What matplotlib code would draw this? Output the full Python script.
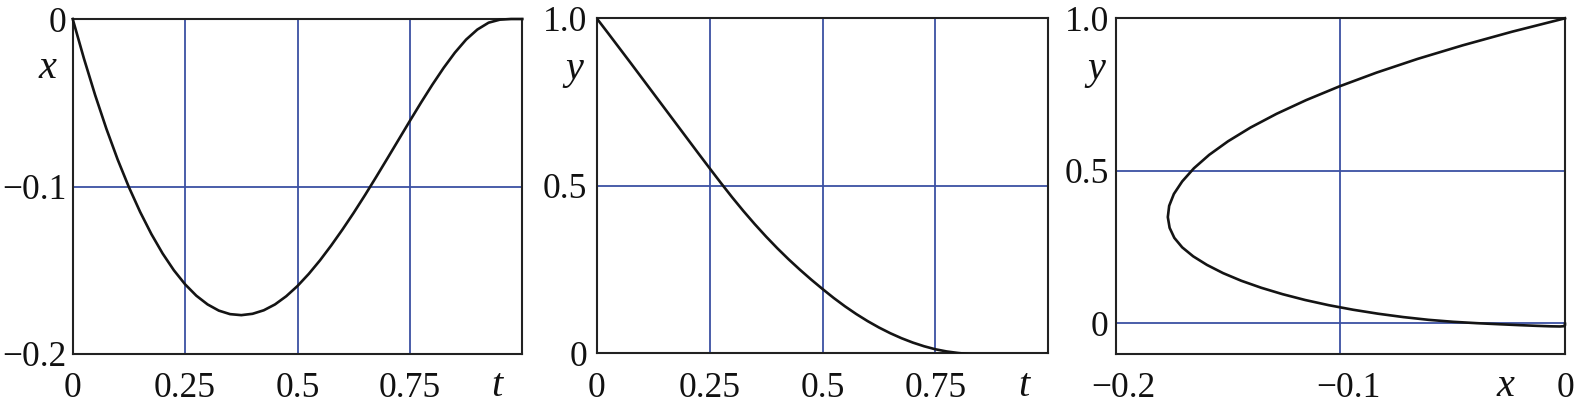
import matplotlib
matplotlib.use("Agg")
import matplotlib.pyplot as plt
import matplotlib.transforms as mtransforms

# ---- data ----
t_vals = [0.000, 0.025, 0.050, 0.075, 0.100, 0.125, 0.150, 0.175, 0.200, 0.225,
          0.250, 0.275, 0.300, 0.325, 0.350, 0.375, 0.400, 0.425, 0.450, 0.475,
          0.500, 0.525, 0.550, 0.575, 0.600, 0.625, 0.650, 0.675, 0.700, 0.725,
          0.750, 0.775, 0.800, 0.825, 0.850, 0.875, 0.900, 0.925, 0.950, 0.975,
          1.000]
x_vals = [0.0, -0.0236, -0.0455, -0.0656, -0.0839, -0.1004, -0.1152, -0.1284, -0.1400, -0.1500,
          -0.1584, -0.1652, -0.1704, -0.1741, -0.1762, -0.1768, -0.1760, -0.1739, -0.1704, -0.1655,
          -0.1594, -0.1522, -0.1441, -0.1352, -0.1257, -0.1157, -0.1052, -0.0943, -0.0832, -0.0720,
          -0.0608, -0.0498, -0.0392, -0.0292, -0.0201, -0.0123, -0.0063, -0.0022, -0.0004, 0.0,
          0.0]
y_vals = [1.000, 0.956, 0.9115, 0.867, 0.822, 0.777, 0.732, 0.687, 0.642, 0.597,
          0.5525, 0.5085, 0.4655, 0.4245, 0.3855, 0.3485, 0.3135, 0.2805, 0.2495, 0.220,
          0.192, 0.165, 0.140, 0.117, 0.096, 0.077, 0.060, 0.045, 0.032, 0.021,
          0.012, 0.0055, 0.001, -0.0025, -0.0055, -0.0078, -0.0093, -0.0098, -0.0088, -0.006,
          -0.001]

t_ticks = [0, 0.25, 0.5, 0.75]
t_ticklabels = ["0", "0.25", "0.5", "0.75"]
x_ticks = [0, -0.1, -0.2]
x_ticklabels = ["0", "\u22120.1", "\u22120.2"]
y_ticks = [0, 0.5, 1.0]
y_ticklabels = ["0", "0.5", "1.0"]

# grid positions
grid_t = [0.25, 0.5, 0.75]
grid_x1 = [-0.1]
grid_y2 = [0.5]
grid_x3 = [-0.1]
grid_y3 = [0.0, 0.5]

# ---- style ----
FONT = "Liberation Serif"
TICK_FS = 25.5
VAR_FS = 29
GRID_C = "#3b51a3"
LINE_C = "#141414"
SPINE_C = "#222222"

plt.rcParams["font.family"] = [FONT, "DejaVu Serif"]

fig = plt.figure(figsize=(15.75, 4.07), dpi=100)
W, H = 1575.0, 407.0

def add_ax(l, r, top, bot):
    return fig.add_axes([l / W, (H - bot) / H, (r - l) / W, (bot - top) / H])

ax1 = add_ax(72.7, 522.3, 19.0, 354.0)
ax2 = add_ax(596.7, 1048.3, 18.3, 353.3)
ax3 = add_ax(1115.7, 1565.0, 18.3, 354.0)

def style(ax, ypad):
    for s in ax.spines.values():
        s.set_color(SPINE_C)
        s.set_linewidth(1.5)
        s.set_zorder(3)
    ax.tick_params(axis="both", length=0, labelsize=TICK_FS, colors="#111111")
    ax.tick_params(axis="x", pad=13.2)
    ax.tick_params(axis="y", pad=ypad)

# panel 1: x(t)
ax1.plot(t_vals, x_vals, color=LINE_C, lw=1.9, zorder=4, clip_on=False)
for g in grid_t:
    ax1.axvline(g, color=GRID_C, lw=1.3, zorder=1)
for g in grid_x1:
    ax1.axhline(g, color=GRID_C, lw=1.3, zorder=1)
ax1.set_xlim(0, 1.0)
ax1.set_ylim(-0.2, 0)
ax1.set_xticks(t_ticks)
ax1.set_xticklabels(t_ticklabels)
ax1.set_yticks(x_ticks)
ax1.set_yticklabels(x_ticklabels)
style(ax1, 4.5)

# panel 2: y(t)
ax2.plot(t_vals, y_vals, color=LINE_C, lw=1.9, zorder=4)
for g in grid_t:
    ax2.axvline(g, color=GRID_C, lw=1.3, zorder=1)
for g in grid_y2:
    ax2.axhline(g, color=GRID_C, lw=1.3, zorder=1)
ax2.set_xlim(0, 1.0)
ax2.set_ylim(0, 1.0)
ax2.set_xticks(t_ticks)
ax2.set_xticklabels(t_ticklabels)
ax2.set_yticks(y_ticks)
ax2.set_yticklabels(y_ticklabels)
style(ax2, 7.0)

# panel 3: y(x)
ax3.plot(x_vals, y_vals, color=LINE_C, lw=1.9, zorder=4, clip_on=False)
for g in grid_x3:
    ax3.axvline(g, color=GRID_C, lw=1.3, zorder=1)
for g in grid_y3:
    ax3.axhline(g, color=GRID_C, lw=1.3, zorder=1)
ax3.set_xlim(-0.2, 0)
ax3.set_ylim(-0.1, 1.0)
ax3.set_xticks(x_ticks)
ax3.set_xticklabels(x_ticklabels)
ax3.set_yticks(y_ticks)
ax3.set_yticklabels(y_ticklabels)
style(ax3, 5.0)
shift = mtransforms.ScaledTranslation(8 / 100.0, 0, fig.dpi_scale_trans)
for lab in ax3.get_xticklabels():
    if lab.get_text().startswith("\u2212"):
        lab.set_transform(lab.get_transform() + shift)

# variable labels
def blend(ax):
    return mtransforms.blended_transform_factory(ax.transData, ax.transAxes)

ax1.text(0.943, -0.1254, "t", transform=blend(ax1), ha="center", va="baseline",
         fontsize=VAR_FS, fontstyle="italic", color="#111111")
ax1.text(-0.057, 0.851, "x", transform=ax1.transAxes, ha="center", va="center",
         fontsize=VAR_FS, fontstyle="italic", color="#111111")

ax2.text(0.945, -0.1275, "t", transform=blend(ax2), ha="center", va="baseline",
         fontsize=VAR_FS, fontstyle="italic", color="#111111")
ax2.text(-0.050, 0.848, "y", transform=ax2.transAxes, ha="center", va="center",
         fontsize=VAR_FS, fontstyle="italic", color="#111111")

ax3.text(-0.0267, -0.125, "x", transform=blend(ax3), ha="center", va="baseline",
         fontsize=VAR_FS, fontstyle="italic", color="#111111")
ax3.text(-0.044, 0.846, "y", transform=ax3.transAxes, ha="center", va="center",
         fontsize=VAR_FS, fontstyle="italic", color="#111111")

fig.savefig("out.png", dpi=100, facecolor="white")
